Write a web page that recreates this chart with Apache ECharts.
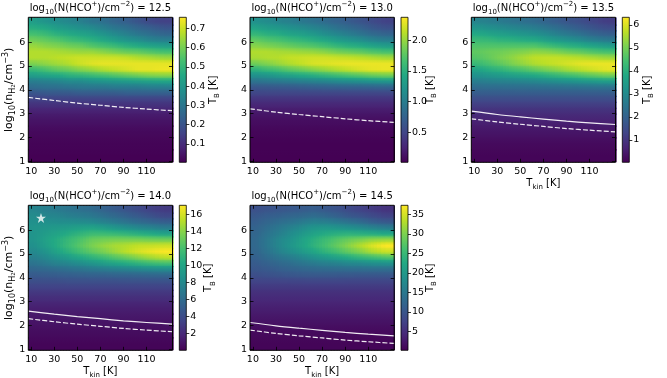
<!DOCTYPE html>
<html>
<head>
<meta charset="utf-8">
<script src="https://cdn.jsdelivr.net/npm/echarts@6.0.0/dist/echarts.min.js"></script>
<style>
  html, body { margin: 0; background: #fff; }
  #chart { width: 667px; height: 378px; }
</style>
</head>
<body>
<div id="chart"></div>
<script>
// grid of the maps: Tkin cell edges (K) and log10(nH2) cell edges, top to bottom
const tkinEdges = [7.5, 17.5, 27.5, 37.5, 47.5, 57.5, 67.5, 77.5, 87.5, 97.5, 107.5, 117.5, 132.5];
const nh2Edges = [7.05, 6.75, 6.5, 6.25, 6, 5.75, 5.5, 5.25, 5, 4.75, 4.5, 4.25, 4, 3.75, 3.5, 3.25, 3, 2.5, 2, 1.5, 0.95];
const tkinTicks = [10, 30, 50, 70, 90, 110];
const nh2Ticks = [1, 2, 3, 4, 5, 6];

const columnDensity = ["12.5", "13.0", "13.5", "14.0", "14.5"];
const tbMin = [0.005, 0.01, 0.02, 0.04, 0.2];
const tbMax = [0.757, 2.37, 6.33, 17.06, 37.3];
const tbTicks = [
  [0.1, 0.2, 0.3, 0.4, 0.5, 0.6, 0.7],
  [0.5, 1, 1.5, 2],
  [1, 2, 3, 4, 5, 6],
  [2, 4, 6, 8, 10, 12, 14, 16],
  [5, 10, 15, 20, 25, 30, 35],
];
const tbDecimals = [1, 1, 0, 0, 0];

// brightness temperature T_B [K], rows from log n = 7 down to 1
const tb125 = [
  [0.42, 0.39, 0.37, 0.35, 0.33, 0.30, 0.28, 0.25, 0.23, 0.20, 0.17, 0.15],
  [0.47, 0.45, 0.42, 0.40, 0.38, 0.36, 0.33, 0.30, 0.28, 0.25, 0.23, 0.20],
  [0.53, 0.51, 0.48, 0.46, 0.44, 0.42, 0.39, 0.36, 0.33, 0.30, 0.28, 0.25],
  [0.59, 0.57, 0.55, 0.52, 0.50, 0.48, 0.45, 0.42, 0.39, 0.37, 0.34, 0.32],
  [0.64, 0.62, 0.61, 0.59, 0.58, 0.55, 0.53, 0.51, 0.48, 0.46, 0.44, 0.42],
  [0.67, 0.67, 0.66, 0.65, 0.64, 0.64, 0.62, 0.60, 0.58, 0.57, 0.55, 0.53],
  [0.67, 0.67, 0.68, 0.69, 0.70, 0.70, 0.70, 0.70, 0.69, 0.67, 0.66, 0.64],
  [0.61, 0.63, 0.65, 0.67, 0.70, 0.72, 0.73, 0.73, 0.73, 0.73, 0.73, 0.73],
  [0.51, 0.54, 0.57, 0.59, 0.62, 0.64, 0.67, 0.69, 0.71, 0.73, 0.73, 0.74],
  [0.42, 0.44, 0.45, 0.48, 0.49, 0.51, 0.53, 0.55, 0.57, 0.59, 0.61, 0.62],
  [0.32, 0.33, 0.34, 0.36, 0.36, 0.38, 0.39, 0.40, 0.41, 0.42, 0.43, 0.44],
  [0.27, 0.28, 0.28, 0.29, 0.30, 0.30, 0.30, 0.31, 0.31, 0.31, 0.32, 0.32],
  [0.20, 0.21, 0.21, 0.21, 0.22, 0.22, 0.22, 0.22, 0.23, 0.23, 0.23, 0.23],
  [0.15, 0.15, 0.15, 0.15, 0.15, 0.15, 0.15, 0.15, 0.15, 0.15, 0.15, 0.15],
  [0.11, 0.11, 0.11, 0.11, 0.11, 0.11, 0.11, 0.11, 0.11, 0.11, 0.11, 0.11],
  [0.075, 0.075, 0.075, 0.075, 0.075, 0.075, 0.075, 0.075, 0.075, 0.075, 0.075, 0.075],
  [0.045, 0.045, 0.045, 0.045, 0.045, 0.045, 0.045, 0.045, 0.045, 0.045, 0.045, 0.045],
  [0.023, 0.023, 0.023, 0.023, 0.023, 0.023, 0.023, 0.023, 0.023, 0.023, 0.023, 0.023],
  [0.011, 0.011, 0.011, 0.011, 0.011, 0.011, 0.011, 0.011, 0.011, 0.011, 0.011, 0.011],
  [0.006, 0.006, 0.006, 0.006, 0.006, 0.006, 0.006, 0.006, 0.006, 0.006, 0.006, 0.006],
];
const tb130 = [
  [1.19, 1.14, 1.07, 1.02, 0.95, 0.90, 0.83, 0.76, 0.69, 0.62, 0.55, 0.47],
  [1.37, 1.30, 1.26, 1.19, 1.14, 1.07, 1.00, 0.90, 0.83, 0.76, 0.66, 0.59],
  [1.56, 1.49, 1.45, 1.37, 1.33, 1.26, 1.16, 1.09, 1.00, 0.92, 0.83, 0.76],
  [1.78, 1.71, 1.66, 1.59, 1.54, 1.47, 1.40, 1.30, 1.23, 1.16, 1.07, 1.00],
  [1.94, 1.90, 1.85, 1.80, 1.75, 1.71, 1.64, 1.56, 1.49, 1.45, 1.37, 1.30],
  [2.09, 2.09, 2.06, 2.04, 2.01, 1.99, 1.94, 1.87, 1.82, 1.78, 1.71, 1.66],
  [2.06, 2.09, 2.11, 2.16, 2.18, 2.20, 2.20, 2.18, 2.16, 2.13, 2.09, 2.04],
  [1.85, 1.92, 2.01, 2.09, 2.16, 2.23, 2.25, 2.28, 2.30, 2.30, 2.30, 2.30],
  [1.52, 1.61, 1.68, 1.78, 1.85, 1.94, 2.01, 2.09, 2.16, 2.23, 2.28, 2.30],
  [1.19, 1.23, 1.30, 1.35, 1.42, 1.47, 1.54, 1.61, 1.68, 1.73, 1.80, 1.85],
  [0.90, 0.93, 0.95, 0.98, 1.01, 1.04, 1.07, 1.11, 1.14, 1.17, 1.20, 1.23],
  [0.64, 0.65, 0.66, 0.67, 0.69, 0.71, 0.72, 0.73, 0.74, 0.74, 0.75, 0.76],
  [0.50, 0.50, 0.50, 0.50, 0.50, 0.50, 0.50, 0.50, 0.50, 0.50, 0.50, 0.50],
  [0.36, 0.36, 0.36, 0.36, 0.36, 0.36, 0.36, 0.36, 0.36, 0.36, 0.36, 0.36],
  [0.26, 0.26, 0.26, 0.26, 0.26, 0.26, 0.26, 0.26, 0.26, 0.26, 0.26, 0.26],
  [0.18, 0.18, 0.18, 0.18, 0.18, 0.18, 0.18, 0.18, 0.18, 0.18, 0.18, 0.18],
  [0.10, 0.10, 0.10, 0.10, 0.10, 0.10, 0.10, 0.10, 0.10, 0.10, 0.10, 0.10],
  [0.045, 0.045, 0.045, 0.045, 0.045, 0.045, 0.045, 0.045, 0.045, 0.045, 0.045, 0.045],
  [0.02, 0.02, 0.02, 0.02, 0.02, 0.02, 0.02, 0.02, 0.02, 0.02, 0.02, 0.02],
  [0.01, 0.01, 0.01, 0.01, 0.01, 0.01, 0.01, 0.01, 0.01, 0.01, 0.01, 0.01],
];
const tb135 = [
  [2.85, 2.72, 2.60, 2.47, 2.34, 2.22, 2.03, 1.84, 1.65, 1.52, 1.33, 1.14],
  [3.29, 3.17, 3.04, 2.91, 2.79, 2.66, 2.47, 2.28, 2.03, 1.84, 1.65, 1.46],
  [3.80, 3.67, 3.54, 3.42, 3.29, 3.17, 2.98, 2.72, 2.53, 2.34, 2.09, 1.90],
  [4.24, 4.18, 4.05, 3.99, 3.86, 3.80, 3.54, 3.35, 3.17, 2.98, 2.72, 2.53],
  [4.56, 4.56, 4.56, 4.56, 4.56, 4.56, 4.37, 4.18, 3.99, 3.86, 3.67, 3.48],
  [4.75, 4.87, 4.94, 5.06, 5.13, 5.25, 5.19, 5.06, 4.87, 4.75, 4.56, 4.43],
  [4.62, 4.81, 5.06, 5.25, 5.51, 5.70, 5.76, 5.76, 5.70, 5.63, 5.51, 5.38],
  [4.24, 4.49, 4.75, 5.06, 5.32, 5.57, 5.70, 5.82, 5.95, 6.08, 6.14, 6.14],
  [3.67, 3.92, 4.11, 4.37, 4.56, 4.81, 5.06, 5.25, 5.51, 5.70, 5.89, 6.08],
  [3.17, 3.29, 3.42, 3.54, 3.67, 3.80, 3.99, 4.18, 4.37, 4.56, 4.75, 4.94],
  [2.66, 2.72, 2.78, 2.79, 2.85, 2.91, 3.01, 3.10, 3.20, 3.29, 3.39, 3.48],
  [2.22, 2.24, 2.25, 2.26, 2.27, 2.28, 2.30, 2.32, 2.34, 2.36, 2.38, 2.40],
  [1.84, 1.84, 1.84, 1.84, 1.84, 1.84, 1.84, 1.84, 1.84, 1.84, 1.84, 1.84],
  [1.46, 1.46, 1.46, 1.46, 1.46, 1.46, 1.46, 1.46, 1.46, 1.46, 1.46, 1.46],
  [1.14, 1.14, 1.14, 1.14, 1.14, 1.14, 1.14, 1.14, 1.14, 1.14, 1.14, 1.14],
  [0.89, 0.89, 0.89, 0.89, 0.89, 0.89, 0.89, 0.89, 0.89, 0.89, 0.89, 0.89],
  [0.63, 0.63, 0.63, 0.63, 0.63, 0.63, 0.63, 0.63, 0.63, 0.63, 0.63, 0.63],
  [0.38, 0.38, 0.38, 0.38, 0.38, 0.38, 0.38, 0.38, 0.38, 0.38, 0.38, 0.38],
  [0.19, 0.19, 0.19, 0.19, 0.19, 0.19, 0.19, 0.19, 0.19, 0.19, 0.19, 0.19],
  [0.09, 0.09, 0.09, 0.09, 0.09, 0.09, 0.09, 0.09, 0.09, 0.09, 0.09, 0.09],
];
const tb140 = [
  [7.7, 7.3, 7.0, 6.6, 6.3, 6.0, 5.4, 4.9, 4.4, 3.9, 3.4, 2.9],
  [8.2, 7.8, 7.7, 7.3, 7.1, 6.8, 6.3, 5.8, 5.3, 4.8, 4.3, 3.7],
  [8.5, 8.5, 8.3, 8.3, 8.2, 8.0, 7.5, 7.0, 6.5, 6.0, 5.6, 5.1],
  [8.8, 9.0, 9.2, 9.4, 9.7, 9.9, 9.5, 9.0, 8.5, 8.0, 7.7, 7.1],
  [8.8, 9.4, 9.9, 10.5, 11.1, 11.6, 11.6, 11.4, 11.1, 10.7, 10.4, 9.9],
  [8.8, 9.7, 10.5, 11.4, 12.2, 13.1, 13.4, 13.6, 13.6, 13.6, 13.4, 13.3],
  [8.5, 9.5, 10.5, 11.6, 12.6, 13.6, 14.3, 14.8, 15.1, 15.5, 15.6, 15.8],
  [8.0, 8.8, 9.9, 10.9, 11.9, 12.8, 13.6, 14.5, 15.3, 16.0, 16.5, 17.0],
  [7.3, 8.0, 8.7, 9.4, 10.2, 10.9, 11.6, 12.4, 13.1, 13.9, 14.6, 15.3],
  [6.5, 7.0, 7.5, 7.8, 8.3, 8.8, 9.4, 9.9, 10.4, 10.9, 11.4, 11.9],
  [5.6, 5.8, 6.0, 6.3, 6.5, 6.8, 7.0, 7.3, 7.5, 7.8, 8.0, 8.2],
  [4.8, 4.9, 5.0, 5.1, 5.2, 5.3, 5.3, 5.4, 5.4, 5.5, 5.6, 5.6],
  [4.1, 4.1, 4.1, 4.2, 4.2, 4.2, 4.2, 4.2, 4.3, 4.3, 4.3, 4.3],
  [3.4, 3.4, 3.4, 3.4, 3.4, 3.4, 3.4, 3.4, 3.4, 3.4, 3.4, 3.4],
  [2.7, 2.7, 2.7, 2.7, 2.7, 2.7, 2.7, 2.7, 2.7, 2.7, 2.7, 2.7],
  [2.2, 2.2, 2.2, 2.2, 2.2, 2.2, 2.2, 2.2, 2.2, 2.2, 2.2, 2.2],
  [1.5, 1.5, 1.5, 1.5, 1.5, 1.5, 1.5, 1.5, 1.5, 1.5, 1.5, 1.5],
  [1.0, 1.0, 1.0, 1.0, 1.0, 1.0, 1.0, 1.0, 1.0, 1.0, 1.0, 1.0],
  [0.6, 0.6, 0.6, 0.6, 0.6, 0.6, 0.6, 0.6, 0.6, 0.6, 0.6, 0.6],
  [0.25, 0.25, 0.25, 0.25, 0.25, 0.25, 0.25, 0.25, 0.25, 0.25, 0.25, 0.25],
];
const tb145 = [
  [9.3, 9.7, 10.1, 10.4, 10.8, 11.2, 10.4, 9.7, 8.6, 7.5, 6.7, 5.6],
  [10.4, 11.2, 11.6, 12.3, 12.7, 13.4, 12.7, 11.6, 10.4, 9.7, 8.6, 7.5],
  [11.2, 12.3, 13.4, 14.2, 15.3, 16.4, 16.0, 15.3, 14.2, 13.1, 11.6, 10.4],
  [11.9, 13.4, 14.9, 16.4, 17.9, 19.4, 19.8, 19.4, 18.7, 17.9, 16.8, 15.7],
  [12.3, 14.2, 16.0, 17.9, 19.8, 21.6, 22.8, 23.5, 23.9, 23.5, 23.1, 22.4],
  [12.7, 14.9, 17.2, 19.0, 21.3, 23.5, 25.4, 27.2, 28.7, 29.8, 31.0, 31.7],
  [12.7, 14.9, 17.2, 19.4, 21.6, 23.9, 26.1, 28.3, 30.6, 32.8, 35.1, 37.3],
  [12.3, 14.2, 16.4, 18.3, 20.1, 22.0, 24.2, 26.1, 28.3, 30.2, 32.5, 34.3],
  [11.6, 13.1, 14.5, 15.7, 17.2, 18.7, 20.1, 21.3, 22.8, 24.2, 25.4, 26.9],
  [10.8, 11.6, 12.7, 13.4, 14.5, 15.3, 16.0, 16.4, 17.2, 17.5, 18.3, 18.7],
  [10.1, 10.6, 11.2, 11.8, 12.3, 12.7, 12.9, 13.1, 13.2, 13.3, 13.4, 13.4],
  [9.0, 9.3, 9.7, 10.0, 10.3, 10.4, 10.4, 10.3, 10.2, 10.1, 10.1, 10.1],
  [7.6, 7.6, 7.7, 7.8, 7.8, 7.9, 7.9, 7.9, 7.8, 7.8, 7.8, 7.8],
  [6.4, 6.4, 6.4, 6.4, 6.4, 6.4, 6.4, 6.4, 6.4, 6.4, 6.4, 6.4],
  [5.2, 5.2, 5.2, 5.2, 5.2, 5.2, 5.2, 5.2, 5.2, 5.2, 5.2, 5.2],
  [4.5, 4.5, 4.5, 4.5, 4.5, 4.5, 4.5, 4.5, 4.5, 4.5, 4.5, 4.5],
  [3.4, 3.4, 3.4, 3.4, 3.4, 3.4, 3.4, 3.4, 3.4, 3.4, 3.4, 3.4],
  [2.2, 2.2, 2.2, 2.2, 2.2, 2.2, 2.2, 2.2, 2.2, 2.2, 2.2, 2.2],
  [1.2, 1.2, 1.2, 1.2, 1.2, 1.2, 1.2, 1.2, 1.2, 1.2, 1.2, 1.2],
  [0.6, 0.6, 0.6, 0.6, 0.6, 0.6, 0.6, 0.6, 0.6, 0.6, 0.6, 0.6],
];
const tbMaps = [tb125, tb130, tb135, tb140, tb145];

// white contours, log10(nH2) along Tkin
const curveTkin = [7.5, 30, 50, 70, 90, 110, 132.5];
const dashedCurves = [
  [3.68, 3.55, 3.44, 3.35, 3.26, 3.19, 3.12],
  [3.20, 3.06, 2.96, 2.87, 2.78, 2.70, 2.63],
  [2.78, 2.65, 2.55, 2.46, 2.37, 2.30, 2.23],
  [2.28, 2.15, 2.05, 1.96, 1.87, 1.80, 1.73],
  [1.80, 1.66, 1.56, 1.47, 1.38, 1.31, 1.24],
];
const solidCurves = [
  null,
  null,
  [3.10, 2.96, 2.86, 2.77, 2.68, 2.61, 2.54],
  [2.60, 2.47, 2.37, 2.28, 2.19, 2.12, 2.05],
  [2.12, 1.98, 1.88, 1.79, 1.70, 1.63, 1.56],
];
const starPoint = [18.5, 6.52];

const viridis = ["#440154", "#482475", "#414487", "#355f8d", "#2a788e", "#21918c",
  "#22a884", "#44bf70", "#7ad151", "#bddf26", "#fde725"];
const FONT = "DejaVu Sans";
const panelLeft = [28.3, 250, 471.3, 28.3, 250];
const panelTop = [17.3, 17.3, 17.3, 205.3, 205.3];
const PW = 144.2;
const PH = 145;
const labelOffset = [27, 22, 18, 22.5, 22.5]; // colorbar title distance
const STRIPS = 4; // shading strips per cell (like imshow bilinear)

const rich = {
  s: { fontSize: 7, fontFamily: FONT, verticalAlign: "bottom", lineHeight: 8 },
  ss: { fontSize: 5, fontFamily: FONT, verticalAlign: "bottom", lineHeight: 5 },
  p: { fontSize: 7, fontFamily: FONT, verticalAlign: "top", lineHeight: 8 },
  S: { fontSize: 8, fontFamily: FONT, verticalAlign: "bottom", lineHeight: 9 },
  SS: { fontSize: 5.5, fontFamily: FONT, verticalAlign: "bottom", lineHeight: 5 },
  P: { fontSize: 8, fontFamily: FONT, verticalAlign: "top", lineHeight: 9 },
};

function cellData(matrix) {
  const out = [];
  matrix.forEach((row, i) => {
    row.forEach((v, j) => {
      out.push([tkinEdges[j], tkinEdges[j + 1], nh2Edges[i + 1], nh2Edges[i], v]);
    });
  });
  return out;
}

// each cell is shaded toward its neighbours, the way matplotlib smooths imshow
function makeRenderer(p) {
  const M = tbMaps[p];
  const cx = tkinEdges.slice(0, -1).map((e, j) => (e + tkinEdges[j + 1]) / 2);
  const cy = nh2Edges.slice(0, -1).map((e, i) => (e + nh2Edges[i + 1]) / 2);
  const colorOf = (v) => {
    const t = Math.min(1, Math.max(0, (v - tbMin[p]) / (tbMax[p] - tbMin[p])));
    return echarts.color.lerp(t, viridis);
  };
  const rowAt = (r, x) => {
    const row = M[r];
    if (x <= cx[0]) return row[0];
    for (let k = 0; k < cx.length - 1; k++) {
      if (x <= cx[k + 1]) return row[k] + (row[k + 1] - row[k]) * (x - cx[k]) / (cx[k + 1] - cx[k]);
    }
    return row[row.length - 1];
  };
  return function (params, api) {
    const i = Math.floor(params.dataIndex / cx.length);
    const x0 = api.value(0);
    const x1 = api.value(1);
    const yBot = api.value(2);
    const yTop = api.value(3);
    const children = [];
    for (let s = 0; s < STRIPS; s++) {
      const xa = x0 + (x1 - x0) * s / STRIPS;
      const xb = x0 + (x1 - x0) * (s + 1) / STRIPS;
      const xm = (xa + xb) / 2;
      const vc = rowAt(i, xm);
      const vt = i > 0 ? vc + (rowAt(i - 1, xm) - vc) * (yTop - cy[i]) / (cy[i - 1] - cy[i]) : vc;
      const vb = i < cy.length - 1 ? vc + (rowAt(i + 1, xm) - vc) * (cy[i] - yBot) / (cy[i] - cy[i + 1]) : vc;
      const a = api.coord([xa, yTop]);
      const b = api.coord([xb, yBot]);
      children.push({
        type: "rect",
        shape: { x: a[0], y: a[1], width: b[0] - a[0] + 1.2, height: b[1] - a[1] + 1.2 },
        style: {
          fill: new echarts.graphic.LinearGradient(0, 0, 0, 1, [
            { offset: 0, color: colorOf(vt) },
            { offset: 0.5, color: colorOf(vc) },
            { offset: 1, color: colorOf(vb) },
          ]),
        },
      });
    }
    return { type: "group", children: children };
  };
}

function frameAxis(extra) {
  return Object.assign({
    type: "value",
    z: 8,
    axisLine: { show: false },
    splitLine: { show: false },
    axisLabel: { show: false },
  }, extra);
}

function tickStyle(values) {
  return { show: true, inside: true, length: 3.5, customValues: values, lineStyle: { color: "#000", width: 0.8 } };
}

function text(x, y, str, rotate, size) {
  return {
    type: "text",
    x: x,
    y: y,
    rotation: rotate ? Math.PI / 2 : 0,
    z: 20,
    style: {
      text: str,
      rich: rich,
      fontSize: size || 10,
      fontFamily: FONT,
      fill: "#000",
      align: "center",
      verticalAlign: "middle",
      lineHeight: 15,
    },
  };
}

const grids = [];
const xAxes = [];
const yAxes = [];
const series = [];
const graphics = [];

// map panels: grid p, x axes 2p (bottom) / 2p+1 (top), y axes 2p (left) / 2p+1 (right)
for (let p = 0; p < 5; p++) {
  const left = panelLeft[p];
  const top = panelTop[p];
  grids.push({ left: left, top: top, width: PW, height: PH, show: true, borderColor: "#000", borderWidth: 1, z: 6 });

  xAxes.push(frameAxis({
    gridIndex: p, position: "bottom", min: 7.5, max: 132.5,
    axisTick: tickStyle(tkinTicks),
    axisLabel: { show: true, customValues: tkinTicks, margin: 4, fontSize: 9.5, fontFamily: FONT, color: "#000" },
  }));
  xAxes.push(frameAxis({ gridIndex: p, position: "top", min: 7.5, max: 132.5, axisTick: tickStyle(tkinTicks) }));
  yAxes.push(frameAxis({
    gridIndex: p, position: "left", min: 0.95, max: 7.05,
    axisTick: tickStyle(nh2Ticks),
    axisLabel: { show: true, customValues: nh2Ticks, margin: 3, fontSize: 9.5, fontFamily: FONT, color: "#000" },
  }));
  yAxes.push(frameAxis({ gridIndex: p, position: "right", min: 0.95, max: 7.05, axisTick: tickStyle(nh2Ticks) }));

  series.push({
    type: "custom", xAxisIndex: 2 * p, yAxisIndex: 2 * p, clip: true, silent: true,
    renderItem: makeRenderer(p), encode: { x: [0, 1], y: [2, 3] }, data: cellData(tbMaps[p]),
  });

  const lines = [[dashedCurves[p], [5, 2]], [solidCurves[p], "solid"]];
  lines.forEach(([curve, dash]) => {
    if (!curve) return;
    series.push({
      type: "line", xAxisIndex: 2 * p, yAxisIndex: 2 * p, showSymbol: false, smooth: 0.3, z: 4, silent: true,
      data: curveTkin.map((t, i) => [t, curve[i]]),
      lineStyle: { color: "#ffffff", width: 1.2, type: dash, opacity: 0.92 },
    });
  });

  // titles and axis names
  graphics.push(text(left + PW / 2, top - 9.3, "log{s|10}(N(HCO{p|+})/cm{p|−2}) = " + columnDensity[p]));
  graphics.push(text(left + 151 + 7 + labelOffset[p], top + PH / 2, "T{s|B} [K]", true));
  if (p === 0 || p === 3) {
    graphics.push(text(9, top + PH / 2, "log{S|10}(n{S|H}{SS|2}/cm{P|−3})", true, 11));
  }
  if (p >= 2) {
    graphics.push(text(left + PW / 2, top + PH + 21, "T{s|kin} [K]"));
  }
}

// star marker in the 14.0 panel
series.push({
  type: "scatter", xAxisIndex: 6, yAxisIndex: 6, z: 5, silent: true,
  symbol: "path://M50,0 L61.8,35.5 L99,35.5 L69,57.5 L80.5,93 L50,71 L19.5,93 L31,57.5 L1,35.5 L38.2,35.5 Z",
  symbolSize: 10,
  itemStyle: { color: "#ffffff" },
  data: [starPoint],
});

// colorbars: grid 5+p, axes 10+p
for (let p = 0; p < 5; p++) {
  const cb = 5 + p;
  grids.push({ left: panelLeft[p] + 151, top: panelTop[p], width: 7, height: PH, show: true, borderColor: "#000", borderWidth: 0.8, z: 6 });
  xAxes.push({ type: "category", gridIndex: cb, data: ["T_B"], show: false });
  yAxes.push({
    type: "value", gridIndex: cb, position: "right", min: tbMin[p], max: tbMax[p], z: 8,
    axisLine: { show: false }, splitLine: { show: false },
    axisTick: { show: true, inside: false, length: 3, customValues: tbTicks[p], lineStyle: { color: "#000", width: 0.8 } },
    axisLabel: {
      customValues: tbTicks[p], margin: 4, fontSize: 9.5, fontFamily: FONT, color: "#000",
      formatter: (v) => Number(v).toFixed(tbDecimals[p]),
    },
  });
  series.push({
    type: "bar", xAxisIndex: 10 + p, yAxisIndex: 10 + p, barWidth: "100%", silent: true,
    data: [tbMax[p]],
    itemStyle: {
      color: new echarts.graphic.LinearGradient(0, 1, 0, 0,
        viridis.map((c, i) => ({ offset: i / (viridis.length - 1), color: c }))),
    },
  });
}

const chart = echarts.init(document.getElementById("chart"), null, { renderer: "canvas" });
chart.setOption({
  animation: false,
  backgroundColor: "#ffffff",
  grid: grids,
  xAxis: xAxes,
  yAxis: yAxes,
  series: series,
  graphic: graphics,
});
</script>
</body>
</html>
